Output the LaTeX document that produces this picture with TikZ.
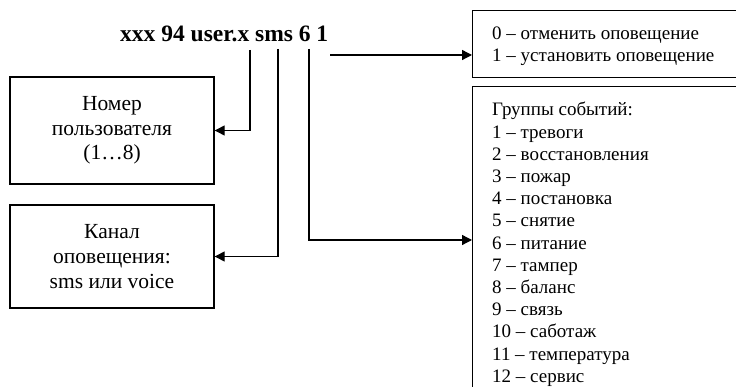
\documentclass[tikz,border=0pt]{standalone}
\usepackage{fontspec}
\setmainfont{Liberation Serif}
\usetikzlibrary{arrows.meta}

\begin{document}
\begin{tikzpicture}[x=1pt, y=-1pt,
    box/.style={draw, line width=1.4pt, inner sep=0pt},
    link/.style={line width=1.3pt, -{Triangle[length=10pt, width=10pt]}},
    boxtext/.style={font=\fontsize{21.5}{24.6}\selectfont, align=center},
    listtext/.style={font=\fontsize{19}{22.2}\selectfont, align=left, anchor=north west, inner sep=0pt}]
    \useasboundingbox (0,0) rectangle (736,387);
    \clip (0,0) rectangle (736,387);

    \node [font=\fontsize{23.5}{27}\selectfont\bfseries, anchor=base west, inner sep=0pt] (cmd) at (120,42) {xxx 94 user.x sms 6 1};

    \node [box, boxtext, minimum width=204pt, minimum height=107pt] (user) at (112,130.5) {Номер\\пользователя\\(1…8)};
    \node [box, boxtext, minimum width=204pt, minimum height=103pt] (chan) at (112,256.5) {Канал\\оповещения:\\sms или voice};

    \node [box, minimum width=290pt, minimum height=67pt, anchor=north west] (act) at (472,10) {};
    \node [box, minimum width=290pt, minimum height=330pt, anchor=north west] (grp) at (472,86) {};

    \node [listtext] (actlist) at (492,26.5) {0 – отменить оповещение\\1 – установить оповещение};
    \node [listtext] (grplist) at (492,102) {Группы событий:\\1 – тревоги\\2 – восстановления\\3 – пожар\\4 – постановка\\5 – снятие\\6 – питание\\7 – тампер\\8 – баланс\\9 – связь\\10 – саботаж\\11 – температура\\12 – сервис};

    % start points under the command
    \coordinate (pUser) at (250,50);
    \coordinate (pChan) at (278,49);
    \coordinate (pGrp) at (309,49);
    \coordinate (pAct) at (330,55);

    \draw [link] (pUser) |- (user.east);
    \draw [link] (pChan) |- (chan.east);
    \draw [link] (pGrp) |- ([yshift=-154pt]grp.north west);
    \draw [link] (pAct) -- (pAct -| act.west);
\end{tikzpicture}
\end{document}
